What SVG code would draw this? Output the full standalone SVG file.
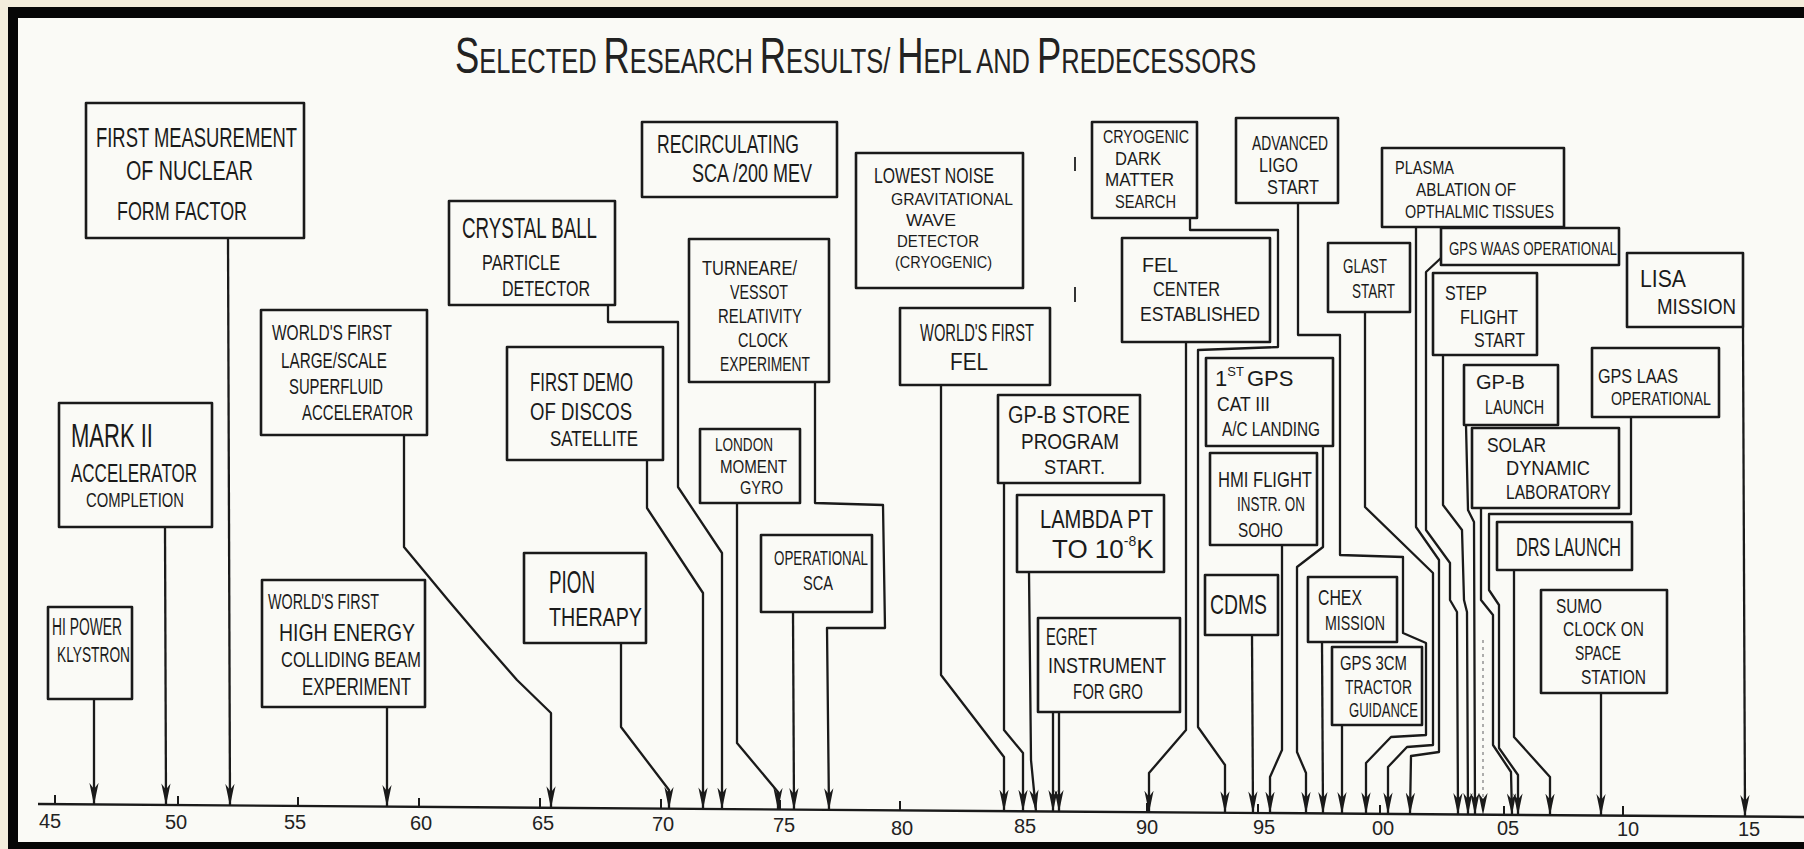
<svg xmlns="http://www.w3.org/2000/svg" width="1804" height="849" viewBox="0 0 1804 849">
<style>
.b{fill:none;stroke:#1a1a1a;stroke-width:2.6;stroke-linejoin:round}
.t{font-family:"Liberation Sans",Arial,sans-serif;fill:#1a1a1a}
.ttl{font-family:"Liberation Sans",Arial,sans-serif;fill:#222}
.lab{font-family:"Liberation Sans",Arial,sans-serif;fill:#222;font-size:20px;text-anchor:middle}
.tick{stroke:#1a1a1a;stroke-width:2}
</style>
<defs>
<marker id="arr" viewBox="0 0 22 10" refX="21.5" refY="5" markerWidth="22" markerHeight="10" markerUnits="userSpaceOnUse" orient="auto">
<path d="M0,0.4 L22,5 L0,9.6 L6,5 Z" fill="#1a1a1a"/>
</marker>
</defs>
<rect width="1804" height="849" fill="#f3eddc"/>
<rect x="8" y="7" width="1796" height="842" fill="#060606"/>
<rect x="18" y="18" width="1786" height="824" fill="#fafaf6"/>

<text class="ttl" font-size="35" transform="translate(455,73) scale(0.727,1)"><tspan font-size="50">S</tspan>ELECTED <tspan font-size="50">R</tspan>ESEARCH <tspan font-size="50">R</tspan>ESULTS/ <tspan font-size="50">H</tspan>EPL AND <tspan font-size="50">P</tspan>REDECESSORS</text>

<g id="stray" stroke="#333" stroke-width="2"><line x1="1075" y1="157" x2="1075" y2="171"/><line x1="1075" y1="287" x2="1075" y2="302"/></g>

<g id="axis">
<line x1="38" y1="804" x2="1804" y2="817" stroke="#1a1a1a" stroke-width="2.4"/>
<line class="tick" x1="55" y1="795" x2="55" y2="805"/>
<line class="tick" x1="178" y1="796" x2="178" y2="806"/>
<line class="tick" x1="298" y1="797" x2="298" y2="807"/>
<line class="tick" x1="419" y1="798" x2="419" y2="808"/>
<line class="tick" x1="540" y1="798" x2="540" y2="808"/>
<line class="tick" x1="661" y1="799" x2="661" y2="809"/>
<line class="tick" x1="780" y1="800" x2="780" y2="810"/>
<line class="tick" x1="900" y1="801" x2="900" y2="811"/>
<line class="tick" x1="1023" y1="802" x2="1023" y2="812"/>
<line class="tick" x1="1147" y1="803" x2="1147" y2="813"/>
<line class="tick" x1="1258" y1="804" x2="1258" y2="814"/>
<line class="tick" x1="1380" y1="805" x2="1380" y2="815"/>
<line class="tick" x1="1504" y1="806" x2="1504" y2="816"/>
<line class="tick" x1="1623" y1="806" x2="1623" y2="816"/>
<text class="lab" x="50" y="828">45</text>
<text class="lab" x="176" y="829">50</text>
<text class="lab" x="295" y="829">55</text>
<text class="lab" x="421" y="830">60</text>
<text class="lab" x="543" y="830">65</text>
<text class="lab" x="663" y="831">70</text>
<text class="lab" x="784" y="832">75</text>
<text class="lab" x="902" y="835">80</text>
<text class="lab" x="1025" y="833">85</text>
<text class="lab" x="1147" y="834">90</text>
<text class="lab" x="1264" y="834">95</text>
<text class="lab" x="1383" y="835">00</text>
<text class="lab" x="1508" y="835">05</text>
<text class="lab" x="1628" y="836">10</text>
<text class="lab" x="1749" y="836">15</text>
</g>

<g id="connectors" fill="none" stroke="#1a1a1a" stroke-width="2.3" stroke-linejoin="round" marker-end="url(#arr)">
<polyline points="94,699 94,804.4"/>
<polyline points="165,527 166,804.9"/>
<polyline points="228,238 230,805.4"/>
<polyline points="387,707 387,806.6"/>
<polyline points="404,435 404,547 448,600 482,640 517,680 551,713 551,807.8"/>
<polyline points="621,643 621,727 669,790 669,808.6"/>
<polyline points="647,460 647,508 703,593 703,808.9"/>
<polyline points="608,305 608,322 678,322 678,487 722,553 722,809"/>
<polyline points="737,503 737,743 778,792 778,809.4"/>
<polyline points="793,612 794,809.6"/>
<polyline points="815,382 815,503 883,505 885,628 827,628 829,809.8"/>
<polyline points="941,385 941,675 1004,757 1004,811.1"/>
<polyline points="1004,483 1004,730 1023,753 1023,811.2"/>
<polyline points="1029,572 1031,760 1036,811.3"/>
<polyline points="1053,712 1053,811.5"/>
<polyline points="1059,712 1059,811.5"/>
<polyline points="1186,342 1186,730 1149,773 1149,812.2"/>
<polyline points="1190,218 1190,230 1278,230 1278,347 1198,350 1198,727 1225,765 1225,812.7"/>
<polyline points="1252,635 1253,812.9"/>
<polyline points="1282,545 1282,750 1270,777 1270,813.1"/>
<polyline points="1323,446 1323,547 1297,567 1297,752 1306,773 1306,813.3"/>
<polyline points="1322,642 1323,813.5"/>
<polyline points="1342,725 1342,813.6"/>
<polyline points="1298,203 1298,335 1340,335 1340,555 1403,557 1403,633 1426,643 1426,735 1391,737 1366,763 1366,813.8"/>
<polyline points="1365,312 1365,507 1433,573 1433,745 1407,747 1388,767 1388,813.9"/>
<polyline points="1416,227 1416,527 1439,560 1439,752 1411,756 1410,814.1"/>
<polyline points="1441,258 1426,272 1426,530 1450,563 1450,600 1457,612 1458,814.5"/>
<polyline points="1443,355 1443,505 1462,530 1464,600 1467,612 1468,814.5"/>
<polyline points="1466,425 1468,510 1474,522 1475,814.6"/>
<polyline points="1481,508 1481,600 1493,615 1493,745 1511,772 1512,814.8"/>
<polyline points="1631,417 1631,514 1489,514 1489,590 1499,605 1499,748 1518,775 1518,814.9"/>
<polyline points="1514,570 1514,737 1550,777 1550,815.1"/>
<polyline points="1601,693 1601,815.5"/>
<polyline points="1743,327 1745,816.5"/>
<polyline points="1483,640 1483,814.6" stroke="#9a9a9a" stroke-width="1.6" stroke-dasharray="3 4"/>
</g>

<g id="n-nuclear"><rect class="b" x="86" y="103" width="218" height="135"/>
<text class="t" font-size="27" x="96" y="147" textLength="201" lengthAdjust="spacingAndGlyphs">FIRST MEASUREMENT</text>
<text class="t" font-size="27" x="126" y="180" textLength="127" lengthAdjust="spacingAndGlyphs">OF NUCLEAR</text>
<text class="t" font-size="26" x="117" y="220" textLength="130" lengthAdjust="spacingAndGlyphs">FORM FACTOR</text></g>

<g id="n-crystal"><rect class="b" x="449" y="201" width="166" height="104"/>
<text class="t" font-size="29" x="462" y="238" textLength="135" lengthAdjust="spacingAndGlyphs">CRYSTAL BALL</text>
<text class="t" font-size="22" x="482" y="270" textLength="78" lengthAdjust="spacingAndGlyphs">PARTICLE</text>
<text class="t" font-size="22" x="502" y="296" textLength="88" lengthAdjust="spacingAndGlyphs">DETECTOR</text></g>

<g id="n-recirc"><rect class="b" x="642" y="122" width="195" height="75"/>
<text class="t" font-size="25" x="657" y="153" textLength="142" lengthAdjust="spacingAndGlyphs">RECIRCULATING</text>
<text class="t" font-size="25" x="692" y="182" textLength="120" lengthAdjust="spacingAndGlyphs">SCA /200 MEV</text></g>

<g id="n-lowest"><rect class="b" x="856" y="153" width="167" height="135"/>
<text class="t" font-size="22" x="874" y="183" textLength="120" lengthAdjust="spacingAndGlyphs">LOWEST NOISE</text>
<text class="t" font-size="17" x="891" y="205" textLength="122" lengthAdjust="spacingAndGlyphs">GRAVITATIONAL</text>
<text class="t" font-size="17" x="906" y="226" textLength="50" lengthAdjust="spacingAndGlyphs">WAVE</text>
<text class="t" font-size="17" x="897" y="247" textLength="82" lengthAdjust="spacingAndGlyphs">DETECTOR</text>
<text class="t" font-size="17" x="895" y="268" textLength="97" lengthAdjust="spacingAndGlyphs">(CRYOGENIC)</text></g>

<g id="n-cryodm"><rect class="b" x="1092" y="122" width="105" height="96"/>
<text class="t" font-size="19" x="1103" y="143" textLength="86" lengthAdjust="spacingAndGlyphs">CRYOGENIC</text>
<text class="t" font-size="19" x="1115" y="164.5" textLength="46" lengthAdjust="spacingAndGlyphs">DARK</text>
<text class="t" font-size="19" x="1105" y="186" textLength="69" lengthAdjust="spacingAndGlyphs">MATTER</text>
<text class="t" font-size="19" x="1115" y="207.5" textLength="61" lengthAdjust="spacingAndGlyphs">SEARCH</text></g>

<g id="n-ligo"><rect class="b" x="1236" y="118" width="102" height="85"/>
<text class="t" font-size="19.5" x="1252" y="150" textLength="76" lengthAdjust="spacingAndGlyphs">ADVANCED</text>
<text class="t" font-size="19.5" x="1259" y="172" textLength="39" lengthAdjust="spacingAndGlyphs">LIGO</text>
<text class="t" font-size="19.5" x="1267" y="194" textLength="52" lengthAdjust="spacingAndGlyphs">START</text></g>

<g id="n-plasma"><rect class="b" x="1382" y="148" width="182" height="79"/>
<text class="t" font-size="19" x="1395" y="174" textLength="59" lengthAdjust="spacingAndGlyphs">PLASMA</text>
<text class="t" font-size="19" x="1416" y="196" textLength="100" lengthAdjust="spacingAndGlyphs">ABLATION OF</text>
<text class="t" font-size="19" x="1405" y="218" textLength="149" lengthAdjust="spacingAndGlyphs">OPTHALMIC TISSUES</text></g>

<g id="n-waas"><rect class="b" x="1441" y="228" width="178" height="37"/>
<text class="t" font-size="19" x="1449" y="255" textLength="168" lengthAdjust="spacingAndGlyphs">GPS WAAS OPERATIONAL</text></g>

<g id="n-glast"><rect class="b" x="1328" y="243" width="82" height="69"/>
<text class="t" font-size="21" x="1343" y="273" textLength="44" lengthAdjust="spacingAndGlyphs">GLAST</text>
<text class="t" font-size="21" x="1352" y="298" textLength="43" lengthAdjust="spacingAndGlyphs">START</text></g>

<g id="n-felcenter"><rect class="b" x="1122" y="238" width="148" height="104"/>
<text class="t" font-size="21" x="1142" y="272" textLength="36" lengthAdjust="spacingAndGlyphs">FEL</text>
<text class="t" font-size="21" x="1153" y="296" textLength="67" lengthAdjust="spacingAndGlyphs">CENTER</text>
<text class="t" font-size="21" x="1140" y="321" textLength="120" lengthAdjust="spacingAndGlyphs">ESTABLISHED</text></g>

<g id="n-step"><rect class="b" x="1433" y="273" width="104" height="82"/>
<text class="t" font-size="19.5" x="1445" y="300" textLength="42" lengthAdjust="spacingAndGlyphs">STEP</text>
<text class="t" font-size="19.5" x="1460" y="324" textLength="58" lengthAdjust="spacingAndGlyphs">FLIGHT</text>
<text class="t" font-size="19.5" x="1474" y="347" textLength="51" lengthAdjust="spacingAndGlyphs">START</text></g>

<g id="n-lisa"><rect class="b" x="1627" y="253" width="116" height="74"/>
<text class="t" font-size="24" x="1640" y="287" textLength="46" lengthAdjust="spacingAndGlyphs">LISA</text>
<text class="t" font-size="22" x="1657" y="314" textLength="79" lengthAdjust="spacingAndGlyphs">MISSION</text></g>

<g id="n-turneaure"><rect class="b" x="689" y="239" width="140" height="143"/>
<text class="t" font-size="21" x="702" y="275" textLength="95" lengthAdjust="spacingAndGlyphs">TURNEARE/</text>
<text class="t" font-size="21" x="730" y="299" textLength="58" lengthAdjust="spacingAndGlyphs">VESSOT</text>
<text class="t" font-size="21" x="718" y="323" textLength="84" lengthAdjust="spacingAndGlyphs">RELATIVITY</text>
<text class="t" font-size="21" x="738" y="347" textLength="50" lengthAdjust="spacingAndGlyphs">CLOCK</text>
<text class="t" font-size="21" x="720" y="371" textLength="90" lengthAdjust="spacingAndGlyphs">EXPERIMENT</text></g>

<g id="n-superfluid"><rect class="b" x="261" y="310" width="166" height="125"/>
<text class="t" font-size="22" x="272" y="340" textLength="120" lengthAdjust="spacingAndGlyphs">WORLD'S FIRST</text>
<text class="t" font-size="22" x="281" y="368" textLength="106" lengthAdjust="spacingAndGlyphs">LARGE/SCALE</text>
<text class="t" font-size="22" x="289" y="394" textLength="94" lengthAdjust="spacingAndGlyphs">SUPERFLUID</text>
<text class="t" font-size="22" x="302" y="420" textLength="111" lengthAdjust="spacingAndGlyphs">ACCELERATOR</text></g>

<g id="n-discos"><rect class="b" x="507" y="347" width="156" height="113"/>
<text class="t" font-size="26" x="530" y="391" textLength="103" lengthAdjust="spacingAndGlyphs">FIRST DEMO</text>
<text class="t" font-size="24" x="530" y="420" textLength="102" lengthAdjust="spacingAndGlyphs">OF DISCOS</text>
<text class="t" font-size="22" x="550" y="446" textLength="88" lengthAdjust="spacingAndGlyphs">SATELLITE</text></g>

<g id="n-worldfel"><rect class="b" x="900" y="308" width="150" height="77"/>
<text class="t" font-size="23" x="920" y="341" textLength="114" lengthAdjust="spacingAndGlyphs">WORLD'S FIRST</text>
<text class="t" font-size="23" x="950" y="370" textLength="38" lengthAdjust="spacingAndGlyphs">FEL</text></g>

<g id="n-gps1"><rect class="b" x="1206" y="358" width="127" height="88"/>
<text class="t" font-size="22" x="1215" y="386">1<tspan font-size="13" dy="-10">ST</tspan><tspan dy="10" dx="3">GPS</tspan></text>
<text class="t" font-size="21" x="1217" y="411" textLength="53" lengthAdjust="spacingAndGlyphs">CAT III</text>
<text class="t" font-size="21" x="1222" y="436" textLength="98" lengthAdjust="spacingAndGlyphs">A/C LANDING</text></g>

<g id="n-gpblaunch"><rect class="b" x="1464" y="365" width="94" height="60"/>
<text class="t" font-size="20" x="1476" y="389" textLength="49" lengthAdjust="spacingAndGlyphs">GP-B</text>
<text class="t" font-size="20" x="1485" y="414" textLength="59" lengthAdjust="spacingAndGlyphs">LAUNCH</text></g>

<g id="n-laas"><rect class="b" x="1592" y="348" width="127" height="69"/>
<text class="t" font-size="21" x="1598" y="383" textLength="80" lengthAdjust="spacingAndGlyphs">GPS LAAS</text>
<text class="t" font-size="19" x="1611" y="405" textLength="100" lengthAdjust="spacingAndGlyphs">OPERATIONAL</text></g>

<g id="n-mark2"><rect class="b" x="59" y="403" width="153" height="124"/>
<text class="t" font-size="33" x="71" y="447" textLength="82" lengthAdjust="spacingAndGlyphs">MARK II</text>
<text class="t" font-size="26" x="71" y="482" textLength="126" lengthAdjust="spacingAndGlyphs">ACCELERATOR</text>
<text class="t" font-size="20" x="86" y="507" textLength="98" lengthAdjust="spacingAndGlyphs">COMPLETION</text></g>

<g id="n-london"><rect class="b" x="700" y="429" width="100" height="74"/>
<text class="t" font-size="19" x="715" y="451" textLength="58" lengthAdjust="spacingAndGlyphs">LONDON</text>
<text class="t" font-size="19" x="720" y="472.5" textLength="67" lengthAdjust="spacingAndGlyphs">MOMENT</text>
<text class="t" font-size="19" x="740" y="494" textLength="43" lengthAdjust="spacingAndGlyphs">GYRO</text></g>

<g id="n-gpbstore"><rect class="b" x="998" y="395" width="142" height="88"/>
<text class="t" font-size="23" x="1008" y="423" textLength="122" lengthAdjust="spacingAndGlyphs">GP-B STORE</text>
<text class="t" font-size="22" x="1021" y="449" textLength="98" lengthAdjust="spacingAndGlyphs">PROGRAM</text>
<text class="t" font-size="21" x="1044" y="474" textLength="61" lengthAdjust="spacingAndGlyphs">START.</text></g>

<g id="n-hmi"><rect class="b" x="1210" y="453" width="107" height="92"/>
<text class="t" font-size="22" x="1218" y="487" textLength="94" lengthAdjust="spacingAndGlyphs">HMI FLIGHT</text>
<text class="t" font-size="20" x="1237" y="511" textLength="68" lengthAdjust="spacingAndGlyphs">INSTR. ON</text>
<text class="t" font-size="21" x="1238" y="537" textLength="45" lengthAdjust="spacingAndGlyphs">SOHO</text></g>

<g id="n-solar"><rect class="b" x="1472" y="428" width="147" height="80"/>
<text class="t" font-size="20" x="1487" y="452" textLength="59" lengthAdjust="spacingAndGlyphs">SOLAR</text>
<text class="t" font-size="20" x="1506" y="475" textLength="84" lengthAdjust="spacingAndGlyphs">DYNAMIC</text>
<text class="t" font-size="20" x="1506" y="499" textLength="105" lengthAdjust="spacingAndGlyphs">LABORATORY</text></g>

<g id="n-lambda"><rect class="b" x="1017" y="495" width="147" height="77"/>
<text class="t" font-size="25" x="1040" y="528" textLength="113" lengthAdjust="spacingAndGlyphs">LAMBDA PT</text>
<text class="t" font-size="26" x="1052" y="558">TO 10<tspan font-size="14" dy="-12">-8</tspan><tspan dy="12">K</tspan></text></g>

<g id="n-opsca"><rect class="b" x="761" y="535" width="111" height="77"/>
<text class="t" font-size="20" x="774" y="565" textLength="94" lengthAdjust="spacingAndGlyphs">OPERATIONAL</text>
<text class="t" font-size="20" x="803" y="590" textLength="30" lengthAdjust="spacingAndGlyphs">SCA</text></g>

<g id="n-pion"><rect class="b" x="524" y="553" width="122" height="90"/>
<text class="t" font-size="32" x="549" y="593" textLength="46" lengthAdjust="spacingAndGlyphs">PION</text>
<text class="t" font-size="25" x="549" y="626" textLength="93" lengthAdjust="spacingAndGlyphs">THERAPY</text></g>

<g id="n-drs"><rect class="b" x="1497" y="522" width="135" height="48"/>
<text class="t" font-size="26" x="1516" y="556" textLength="105" lengthAdjust="spacingAndGlyphs">DRS LAUNCH</text></g>

<g id="n-cdms"><rect class="b" x="1205" y="575" width="73" height="60"/>
<text class="t" font-size="28" x="1210" y="614" textLength="57" lengthAdjust="spacingAndGlyphs">CDMS</text></g>

<g id="n-chex"><rect class="b" x="1308" y="577" width="89" height="65"/>
<text class="t" font-size="22" x="1318" y="605" textLength="44" lengthAdjust="spacingAndGlyphs">CHEX</text>
<text class="t" font-size="21" x="1325" y="630" textLength="60" lengthAdjust="spacingAndGlyphs">MISSION</text></g>

<g id="n-sumo"><rect class="b" x="1541" y="590" width="126" height="103"/>
<text class="t" font-size="20" x="1556" y="613" textLength="46" lengthAdjust="spacingAndGlyphs">SUMO</text>
<text class="t" font-size="20" x="1563" y="636" textLength="81" lengthAdjust="spacingAndGlyphs">CLOCK ON</text>
<text class="t" font-size="20" x="1575" y="660" textLength="46" lengthAdjust="spacingAndGlyphs">SPACE</text>
<text class="t" font-size="20" x="1581" y="684" textLength="65" lengthAdjust="spacingAndGlyphs">STATION</text></g>

<g id="n-colliding"><rect class="b" x="262" y="580" width="163" height="127"/>
<text class="t" font-size="22" x="268" y="609" textLength="111" lengthAdjust="spacingAndGlyphs">WORLD'S FIRST</text>
<text class="t" font-size="24" x="279" y="641" textLength="136" lengthAdjust="spacingAndGlyphs">HIGH ENERGY</text>
<text class="t" font-size="22" x="281" y="667" textLength="140" lengthAdjust="spacingAndGlyphs">COLLIDING BEAM</text>
<text class="t" font-size="24" x="302" y="695" textLength="109" lengthAdjust="spacingAndGlyphs">EXPERIMENT</text></g>

<g id="n-klystron"><rect class="b" x="48" y="607" width="84" height="92"/>
<text class="t" font-size="23" x="52" y="635" textLength="70" lengthAdjust="spacingAndGlyphs">HI POWER</text>
<text class="t" font-size="22" x="57" y="662" textLength="73" lengthAdjust="spacingAndGlyphs">KLYSTRON</text></g>

<g id="n-egret"><rect class="b" x="1038" y="618" width="142" height="94"/>
<text class="t" font-size="23" x="1046" y="645" textLength="51" lengthAdjust="spacingAndGlyphs">EGRET</text>
<text class="t" font-size="22" x="1048" y="673" textLength="118" lengthAdjust="spacingAndGlyphs">INSTRUMENT</text>
<text class="t" font-size="22" x="1073" y="699" textLength="70" lengthAdjust="spacingAndGlyphs">FOR GRO</text></g>

<g id="n-gps3cm"><rect class="b" x="1332" y="647" width="90" height="78"/>
<text class="t" font-size="21" x="1340" y="670" textLength="67" lengthAdjust="spacingAndGlyphs">GPS 3CM</text>
<text class="t" font-size="20" x="1345" y="694" textLength="67" lengthAdjust="spacingAndGlyphs">TRACTOR</text>
<text class="t" font-size="20" x="1349" y="717" textLength="69" lengthAdjust="spacingAndGlyphs">GUIDANCE</text></g>
</svg>
